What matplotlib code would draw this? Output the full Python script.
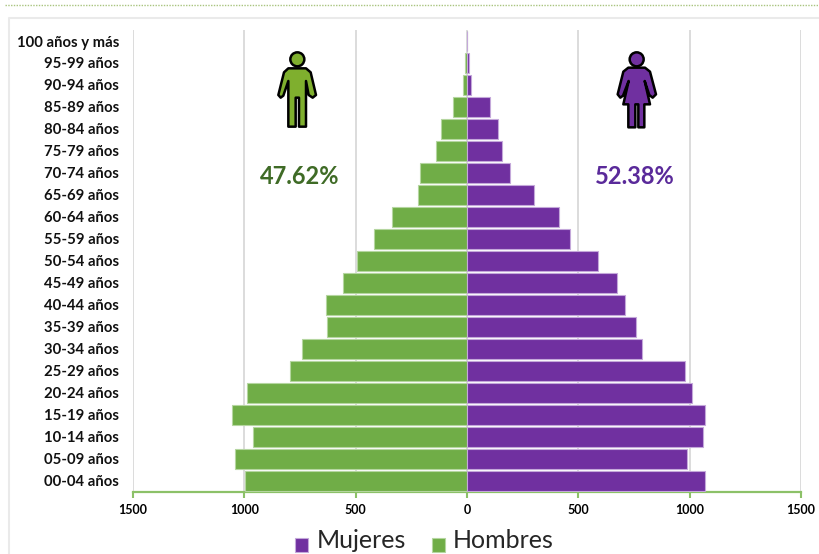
import matplotlib
matplotlib.use('Agg')
import matplotlib.pyplot as plt
from matplotlib.patches import Polygon, Circle, Rectangle
import numpy as np

grupos = ['00-04 años', '05-09 años', '10-14 años', '15-19 años', '20-24 años', '25-29 años', '30-34 años',
          '35-39 años', '40-44 años', '45-49 años', '50-54 años', '55-59 años', '60-64 años', '65-69 años',
          '70-74 años', '75-79 años', '80-84 años', '85-89 años', '90-94 años', '95-99 años', '100 años y más']
hombres = [997, 1042, 961, 1055, 988, 795, 741, 629, 633, 557, 494, 418, 337, 220, 211, 137, 117, 63, 20, 7, 1]
mujeres = [1067, 986, 1061, 1067, 1010, 979, 784, 760, 709, 672, 587, 463, 413, 302, 191, 159, 141, 105, 20, 8, 2]
ticks = [-1500, -1000, -500, 0, 500, 1000, 1500]

verde = '#70AD47'
morado = '#7030A0'

plt.rcParams['font.family'] = ['Lato', 'DejaVu Sans']

fig = plt.figure(figsize=(8.2, 5.54), dpi=100)
ax = fig.add_axes([133 / 820, 1 - 492 / 554, 668 / 820, 462 / 554])

y = np.arange(len(grupos))
ax.barh(y, -np.array(hombres), height=0.93, color=verde, edgecolor='#B5D6A0', linewidth=0.8, zorder=3)
ax.barh(y, mujeres, height=0.93, color=morado, edgecolor='#C4A8DA', linewidth=0.8, zorder=3)

ax.set_xlim(-1500, 1500)
ax.set_ylim(-0.5, len(grupos) - 0.5)
ax.set_xticks(ticks)
ax.set_xticklabels([str(abs(t)) for t in ticks], fontsize=9, fontweight='bold', color='black')
ax.set_yticks(y)
ax.set_yticklabels(grupos, fontsize=10.7, fontweight='bold', color='#111111')
ax.tick_params(axis='y', length=0, pad=10)
ax.tick_params(axis='x', length=4, width=1.5, color='#8CC168', pad=5)
ax.grid(axis='x', color='#D9D9D9', linewidth=1.3, zorder=1)
ax.set_axisbelow(True)
for s in ['top', 'right', 'left']:
    ax.spines[s].set_visible(False)
ax.spines['bottom'].set_color('#8CC168')
ax.spines['bottom'].set_linewidth(1.6)

# capa en pixeles para marco, iconos y leyenda
capa = fig.add_axes([0, 0, 1, 1], zorder=5)
capa.set_xlim(0, 820)
capa.set_ylim(554, 0)
capa.axis('off')
capa.patch.set_alpha(0)

capa.plot([5, 820], [4.5, 4.5], color='#A9C47F', linewidth=1, linestyle=(0, (1, 1)))
capa.plot([820, 9.5, 9.5], [18, 18, 554], color='#EAEAEA', linewidth=1.5)

hombre_pts = [(55, 70), (108, 70), (122, 82), (138, 150), (128, 158), (116, 150), (108, 108), (108, 245), (87, 245),
              (87, 158), (77, 158), (77, 245), (55, 245), (55, 108), (40, 152), (32, 158), (25, 150), (42, 82)]
mujer_pts = [(55, 68), (105, 68), (120, 80), (138, 148), (128, 158), (118, 150), (104, 108), (120, 178), (103, 178),
             (103, 247), (85, 247), (85, 178), (76, 178), (76, 247), (55, 247), (55, 178), (40, 178), (56, 108),
             (39, 152), (31, 158), (23, 148), (40, 80)]


def icono(pts, x0, y0, cabeza, color):
    xy = [(x0 + a / 3, y0 + b / 3) for a, b in pts]
    capa.add_patch(Polygon(xy, closed=True, facecolor=color, edgecolor='black', linewidth=1.8, joinstyle='round'))
    capa.add_patch(Circle((x0 + cabeza / 3, y0 + 43 / 3), 7, facecolor=color, edgecolor='black', linewidth=1.8))


icono(hombre_pts, 270, 45, 82, '#7FAF2E')
icono(mujer_pts, 610, 45, 80, morado)

capa.text(299.5, 176, '47.62%', fontsize=17, fontweight='bold', color='#3F6B26', ha='center', va='center')
capa.text(635, 177, '52.38%', fontsize=17, fontweight='bold', color='#5A2A9A', ha='center', va='center')

capa.add_patch(Rectangle((295, 538), 13, 14, facecolor=morado, edgecolor='#C4A8DA', linewidth=0.8))
capa.add_patch(Rectangle((432, 538), 13, 14, facecolor=verde, edgecolor='#B5D6A0', linewidth=0.8))
capa.text(317, 541, 'Mujeres', fontsize=18, color='#262626', ha='left', va='center')
capa.text(453, 541, 'Hombres', fontsize=18, color='#262626', ha='left', va='center')

fig.savefig('out.png', dpi=100)
